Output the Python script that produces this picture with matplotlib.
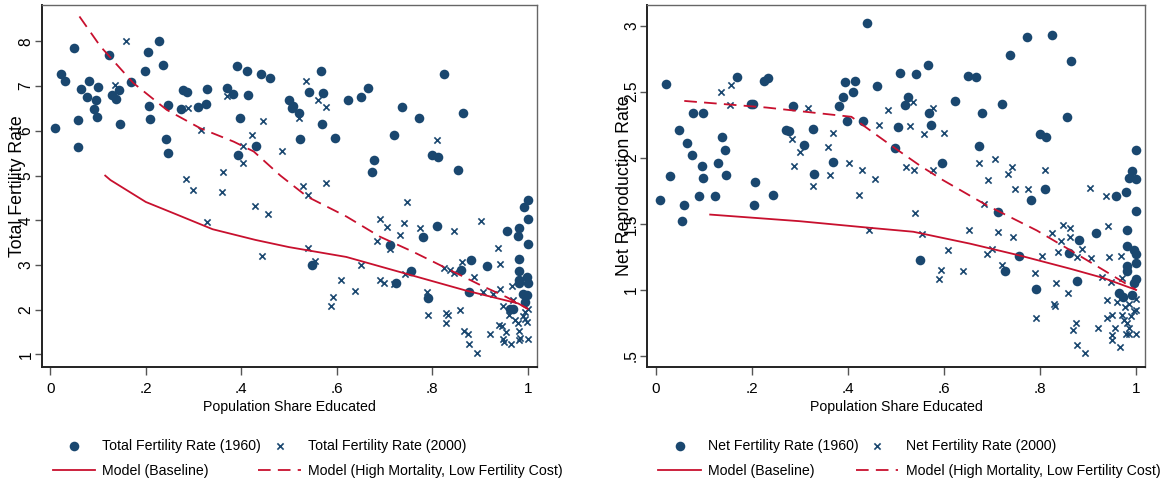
import matplotlib
matplotlib.use('Agg')
import matplotlib.pyplot as plt

# Stata-like look: Arial metrics via Liberation Sans
plt.rcParams['font.family'] = ['Liberation Sans', 'DejaVu Sans']
plt.rcParams['axes.unicode_minus'] = False

NAVY = '#1a476f'
RED = '#c8102e'

# ---- left panel: total fertility rate ----
tfr_edu_1960 = [0.010, 0.022, 0.031, 0.050, 0.057, 0.059, 0.065, 0.077, 0.080, 0.091, 0.096, 0.099, 0.098,
                0.123, 0.130, 0.138, 0.144, 0.147, 0.170, 0.199, 0.205, 0.206, 0.208, 0.228, 0.236, 0.243,
                0.246, 0.246, 0.273, 0.278, 0.286, 0.309, 0.327, 0.329, 0.370, 0.383, 0.392, 0.398, 0.393,
                0.411, 0.415, 0.431, 0.441, 0.461, 0.499, 0.508, 0.506, 0.520, 0.524, 0.567, 0.541, 0.572,
                0.569, 0.597, 0.623, 0.650, 0.666, 0.720, 0.737, 0.773, 0.678, 0.673, 0.799, 0.813, 0.824,
                0.864, 0.854, 1.000, 0.549, 0.712, 0.781, 0.810, 0.756, 0.725, 0.791, 0.876, 0.861, 0.881,
                0.915, 0.957, 0.982, 0.979, 0.992, 1.000, 1.000, 0.981, 0.981, 0.981, 0.981, 0.998, 1.000,
                0.991, 0.998, 0.995, 0.963, 0.970]
tfr_1960 = [6.06, 7.28, 7.11, 7.85, 6.25, 5.63, 6.93, 6.75, 7.11, 6.50, 6.68, 6.99, 6.30,
            7.70, 6.81, 6.71, 6.92, 6.16, 7.10, 7.35, 7.76, 6.56, 6.27, 8.00, 7.48, 5.81,
            5.51, 6.57, 6.50, 6.91, 6.86, 6.54, 6.61, 6.93, 6.96, 6.83, 7.46, 6.28, 5.46,
            7.33, 6.81, 5.66, 7.28, 7.18, 6.68, 6.56, 6.51, 6.40, 5.81, 7.35, 6.88, 6.85,
            6.15, 5.83, 6.70, 6.76, 6.96, 5.90, 6.53, 6.29, 5.35, 5.07, 5.46, 5.42, 7.27,
            6.40, 5.12, 4.45, 3.01, 3.44, 3.62, 3.87, 2.87, 2.59, 2.27, 2.40, 2.88, 3.11,
            2.98, 3.76, 3.82, 3.65, 4.30, 4.04, 3.46, 3.13, 2.87, 2.66, 2.59, 2.73, 2.59,
            2.36, 2.32, 2.17, 2.02, 2.02]

tfr_edu_2000 = [0.158, 0.136, 0.288, 0.316, 0.370, 0.445, 0.403, 0.423, 0.404, 0.485, 0.285, 0.299, 0.362,
                0.360, 0.521, 0.329, 0.429, 0.456, 0.444, 0.536, 0.560, 0.577, 0.810, 0.577, 0.529, 0.539,
                0.748, 0.691, 0.705, 0.741, 0.733, 0.775, 0.684, 0.712, 0.846, 0.903, 0.540, 0.554, 0.651,
                0.608, 0.593, 0.588, 0.639, 0.690, 0.698, 0.720, 0.743, 0.789, 0.792, 0.829, 0.832, 0.829,
                0.859, 0.824, 0.838, 0.845, 0.862, 0.887, 0.907, 0.928, 0.942, 0.938, 0.941, 0.968, 0.866,
                0.874, 0.877, 0.894, 0.921, 0.939, 0.947, 0.948, 0.960, 0.955, 0.948, 0.951, 0.965, 0.974,
                0.979, 0.982, 0.984, 0.982, 0.990, 0.995, 0.998, 1.000, 0.970, 1.000, 0.995]
tfr_2000 = [8.00, 7.03, 6.51, 6.02, 6.79, 6.23, 5.67, 5.91, 5.28, 5.54, 4.92, 4.68, 5.09,
            4.64, 6.28, 3.97, 4.32, 4.14, 3.21, 7.11, 6.70, 6.54, 5.80, 4.83, 4.77, 4.57,
            4.40, 4.02, 3.84, 3.95, 3.67, 3.83, 3.54, 3.35, 3.76, 3.99, 3.38, 3.09, 3.00,
            2.67, 2.28, 2.08, 2.42, 2.67, 2.59, 2.57, 2.79, 2.40, 1.88, 1.93, 1.88, 1.71,
            1.99, 2.94, 2.88, 2.81, 3.07, 2.73, 2.40, 2.36, 2.47, 3.39, 3.03, 2.53, 1.52,
            1.45, 1.24, 1.04, 1.46, 1.65, 1.63, 2.08, 1.89, 1.50, 1.35, 1.28, 1.24, 1.76,
            1.70, 1.52, 1.37, 1.33, 1.87, 1.80, 1.72, 1.35, 2.21, 2.02, 1.95]

# model curves
tfr_base_x = [0.115, 0.126, 0.20, 0.26, 0.34, 0.43, 0.50, 0.62, 0.75, 0.87, 0.98, 1.0]
tfr_base_y = [5.00, 4.90, 4.41, 4.15, 3.80, 3.56, 3.40, 3.18, 2.79, 2.43, 2.14, 2.02]
tfr_high_x = [0.061, 0.105, 0.174, 0.244, 0.314, 0.384, 0.426, 0.482, 0.538, 0.621, 0.691, 0.761, 0.831, 0.901, 0.956, 1.0]
tfr_high_y = [8.56, 7.89, 7.07, 6.47, 6.06, 5.76, 5.54, 5.00, 4.53, 4.08, 3.63, 3.29, 2.92, 2.55, 2.28, 2.02]

# ---- right panel: net reproduction rate ----
nrr_edu_1960 = [0.021, 0.008, 0.030, 0.049, 0.064, 0.076, 0.078, 0.097, 0.095, 0.097, 0.090, 0.122, 0.129,
                0.137, 0.143, 0.145, 0.169, 0.198, 0.203, 0.206, 0.226, 0.234, 0.243, 0.271, 0.277, 0.285,
                0.308, 0.327, 0.329, 0.369, 0.381, 0.390, 0.393, 0.398, 0.410, 0.415, 0.431, 0.440, 0.460,
                0.058, 0.055, 0.205, 0.509, 0.541, 0.566, 0.524, 0.519, 0.568, 0.573, 0.505, 0.498, 0.596,
                0.623, 0.649, 0.666, 0.678, 0.721, 0.673, 0.737, 0.773, 0.825, 0.864, 0.855, 0.799, 0.813,
                1.000, 0.992, 0.985, 1.000, 0.810, 0.781, 0.957, 0.979, 0.712, 0.550, 0.756, 0.726, 0.791,
                0.916, 0.882, 0.860, 0.877, 1.000, 0.981, 0.981, 0.995, 1.000, 1.000, 0.981, 0.981, 1.000,
                0.995, 0.964, 0.972, 0.992]
nrr_1960 = [2.56, 1.68, 1.86, 2.21, 2.11, 2.02, 2.34, 2.34, 1.94, 1.85, 1.71, 1.71, 1.96,
            2.16, 2.06, 1.87, 2.61, 2.41, 2.41, 1.82, 2.58, 2.60, 1.72, 2.21, 2.20, 2.39,
            2.10, 2.22, 1.88, 1.97, 2.39, 2.46, 2.57, 2.28, 2.50, 2.58, 2.28, 3.02, 2.54,
            1.64, 1.52, 1.64, 2.64, 2.63, 2.70, 2.46, 2.40, 2.34, 2.25, 2.23, 2.07, 1.96,
            2.43, 2.62, 2.61, 2.34, 2.41, 2.09, 2.78, 2.91, 2.93, 2.73, 2.31, 2.18, 2.16,
            2.06, 1.90, 1.85, 1.84, 1.76, 1.68, 1.71, 1.74, 1.59, 1.23, 1.26, 1.14, 1.01,
            1.43, 1.38, 1.28, 1.07, 1.60, 1.45, 1.33, 1.30, 1.27, 1.20, 1.18, 1.14, 1.08,
            1.05, 0.98, 0.95, 0.96]

nrr_edu_2000 = [0.136, 0.157, 0.154, 0.284, 0.299, 0.287, 0.317, 0.328, 0.369, 0.359, 0.362, 0.402, 0.429,
                0.422, 0.456, 0.464, 0.484, 0.443, 0.536, 0.576, 0.529, 0.559, 0.600, 0.520, 0.538, 0.576,
                0.673, 0.706, 0.692, 0.742, 0.733, 0.811, 0.748, 0.775, 0.903, 0.938, 0.539, 0.683, 0.555,
                0.651, 0.713, 0.743, 0.608, 0.689, 0.699, 0.594, 0.589, 0.639, 0.720, 0.789, 0.804, 0.792,
                0.825, 0.847, 0.863, 0.863, 0.844, 0.837, 0.887, 0.877, 0.907, 0.942, 0.944, 0.969, 0.928,
                0.948, 0.970, 0.834, 0.859, 0.828, 0.830, 0.868, 0.875, 0.877, 0.894, 0.921, 0.940, 0.960,
                0.940, 0.950, 0.955, 0.950, 0.949, 0.966, 0.971, 0.974, 0.981, 0.985, 0.978, 0.985, 0.976,
                0.985, 0.995, 1.000, 1.000, 0.990, 1.000]
nrr_2000 = [2.50, 2.55, 2.40, 2.14, 2.04, 1.94, 2.38, 1.79, 2.19, 2.08, 1.87, 1.96, 1.91,
            1.72, 1.84, 2.25, 2.36, 1.45, 2.42, 2.38, 2.24, 2.18, 2.19, 1.93, 1.91, 1.91,
            1.96, 1.99, 1.83, 1.93, 1.88, 1.91, 1.76, 1.76, 1.77, 1.71, 1.58, 1.65, 1.42,
            1.45, 1.44, 1.40, 1.30, 1.27, 1.31, 1.15, 1.08, 1.14, 1.19, 1.13, 1.26, 0.79,
            1.43, 1.49, 1.47, 1.40, 1.37, 1.29, 1.31, 1.25, 1.24, 1.48, 1.25, 1.26, 1.10,
            1.06, 1.09, 1.05, 0.98, 0.89, 0.88, 0.70, 0.75, 0.58, 0.52, 0.71, 0.92, 0.91,
            0.79, 0.81, 0.71, 0.66, 0.62, 0.57, 0.81, 0.77, 0.75, 0.71, 0.67, 0.67, 0.87,
            0.89, 0.84, 0.85, 0.93, 0.80, 0.67]

nrr_base_x = [0.113, 0.299, 0.445, 0.536, 0.654, 0.758, 0.863, 0.932, 1.0]
nrr_base_y = [1.57, 1.52, 1.47, 1.44, 1.35, 1.26, 1.16, 1.09, 1.00]
nrr_high_x = [0.059, 0.230, 0.407, 0.445, 0.487, 0.550, 0.598, 0.689, 0.793, 0.863, 0.932, 1.0]
nrr_high_y = [2.43, 2.38, 2.31, 2.21, 2.10, 1.94, 1.83, 1.64, 1.45, 1.30, 1.15, 1.00]

xticks = [0, 0.2, 0.4, 0.6, 0.8, 1.0]
xtick_labels = ['0', '.2', '.4', '.6', '.8', '1']

FS = 10.2
dash = (0, (7, 4))

fig = plt.figure(figsize=(11.72, 4.84), dpi=100)
ax1 = fig.add_axes([0.0356, 0.241, 0.4224, 0.749])
ax2 = fig.add_axes([0.5523, 0.241, 0.4249, 0.749])


def draw(ax, ex60, y60, ex00, y00, bx, by, hx, hy, name, ylabel, yticks, ylabels, ylim, ylab_x):
    ax.scatter(ex60, y60, s=48, marker='o', color=NAVY, linewidths=0, label=name + ' (1960)', zorder=3)
    ax.scatter(ex00, y00, s=20, marker='x', color=NAVY, linewidths=1.2, label=name + ' (2000)', zorder=3)
    ax.plot(bx, by, color=RED, lw=1.3, label='Model (Baseline)', zorder=4)
    ax.plot(hx, hy, color=RED, lw=1.3, linestyle=dash, label='Model (High Mortality, Low Fertility Cost)', zorder=4)

    ax.set_xlim(-0.018, 1.019)
    ax.set_ylim(*ylim)
    ax.set_xticks(xticks)
    ax.set_xticklabels(xtick_labels, fontsize=FS + 0.8)
    ax.set_yticks(yticks)
    ax.set_yticklabels(ylabels, fontsize=FS + 1.0, rotation=90, va='center')
    ax.tick_params(axis='x', length=6, width=1, color='#555555', pad=4.5)
    ax.tick_params(axis='y', length=5, width=1, color='#555555', pad=1)
    ax.set_xlabel('Population Share Educated', fontsize=FS, labelpad=3)
    ax.set_ylabel(ylabel, fontsize=12.8)
    ax.yaxis.set_label_coords(ylab_x, 0.5)

    for s in ['left', 'bottom']:
        ax.spines[s].set_color('#222222')
        ax.spines[s].set_linewidth(1.4)
    for s in ['top', 'right']:
        ax.spines[s].set_color('#666666')
        ax.spines[s].set_linewidth(1.0)

    h, l = ax.get_legend_handles_labels()
    order = [0, 2, 1, 3]
    ax.legend([h[i] for i in order], [l[i] for i in order], ncol=2, frameon=False, fontsize=FS,
              loc='upper left', bbox_to_anchor=(0.022, -0.198), handlelength=3.0, handletextpad=0.52,
              columnspacing=-0.2, labelspacing=0.75, borderpad=0, borderaxespad=0)


draw(ax1, tfr_edu_1960, tfr_1960, tfr_edu_2000, tfr_2000, tfr_base_x, tfr_base_y, tfr_high_x, tfr_high_y,
     'Total Fertility Rate', 'Total Fertility Rate', [1, 2, 3, 4, 5, 6, 7, 8],
     ['1', '2', '3', '4', '5', '6', '7', '8'], (0.71, 8.82), -0.032)
draw(ax2, nrr_edu_1960, nrr_1960, nrr_edu_2000, nrr_2000, nrr_base_x, nrr_base_y, nrr_high_x, nrr_high_y,
     'Net Fertility Rate', 'Net Reproduction Rate', [0.5, 1, 1.5, 2, 2.5, 3],
     ['.5', '1', '1.5', '2', '2.5', '3'], (0.414, 3.157), -0.029)

plt.savefig('out.png', dpi=100)
